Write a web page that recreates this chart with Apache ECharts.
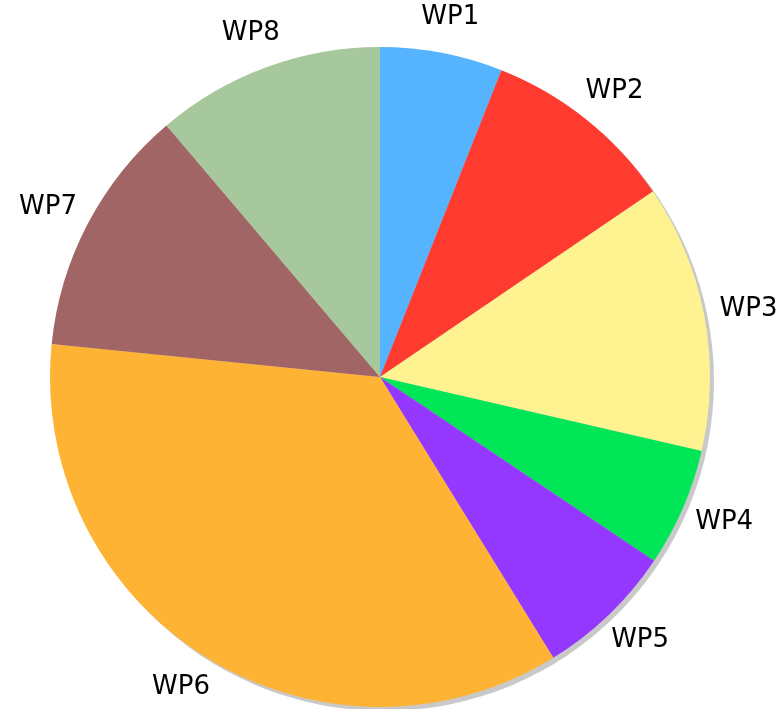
<!DOCTYPE html>
<html>
<head>
    <meta charset="utf-8">
    <title>WP</title>
    <script src="https://cdn.jsdelivr.net/npm/echarts@6/dist/echarts.min.js"></script>
    <style>
        html, body { margin: 0; padding: 0; background: #fff; }
        #main { width: 780px; height: 709px; }
    </style>
</head>
<body>
<div id="main"></div>
<script type="text/javascript">
    // categories and values (percent of the whole)
    var names = ['WP1', 'WP2', 'WP3', 'WP4', 'WP5', 'WP6', 'WP7', 'WP8'];
    var values = [6.0, 9.5, 13.1, 5.8, 6.8, 35.4, 12.2, 11.2];
    var colors = ['#56b4ff', '#ff3a2f', '#fff290', '#00e657', '#9437ff', '#feb334', '#a26565', '#a7c79c'];

    var total = values.reduce(function (a, b) { return a + b; }, 0);

    var pieData = names.map(function (n, i) {
        return { name: n, value: values[i], itemStyle: { color: colors[i] } };
    });

    var cx = 380, cy = 377;

    var myChart = echarts.init(document.getElementById('main'));

    var option = {
        animation: false,
        series: [
            // flat grey shadow behind the pie
            {
                type: 'pie',
                silent: true,
                center: [cx + 4, cy + 4],
                radius: [0, 330],
                label: { show: false },
                labelLine: { show: false },
                data: [{ name: 'shadow', value: total, itemStyle: { color: '#c9c9c9' } }],
                z: 1
            },
            {
                type: 'pie',
                center: [cx, cy],
                radius: [0, 330],
                startAngle: 90,
                clockwise: true,
                label: { show: false },
                labelLine: { show: false },
                itemStyle: { borderWidth: 0 },
                data: pieData,
                z: 2
            },
            // invisible ring used only to place the labels centred outside
            {
                type: 'pie',
                silent: true,
                center: [cx, cy],
                radius: [330, 414],
                startAngle: 90,
                clockwise: true,
                itemStyle: { color: 'rgba(0,0,0,0)' },
                label: {
                    show: true,
                    position: 'inside',
                    formatter: '{b}',
                    color: '#000',
                    fontFamily: 'DejaVu Sans',
                    fontSize: 26
                },
                labelLine: { show: false },
                // labels sit a little closer above and below the pie
                labelLayout: function (params) {
                    var r = params.labelRect;
                    var lx = r.x + r.width / 2, ly = r.y + r.height / 2;
                    return {
                        x: lx,
                        y: cy + (ly - cy) * 0.976,
                        align: 'center',
                        verticalAlign: 'middle'
                    };
                },
                data: names.map(function (n, i) { return { name: n, value: values[i] }; }),
                z: 3
            }
        ]
    };

    myChart.setOption(option);
</script>
</body>
</html>
